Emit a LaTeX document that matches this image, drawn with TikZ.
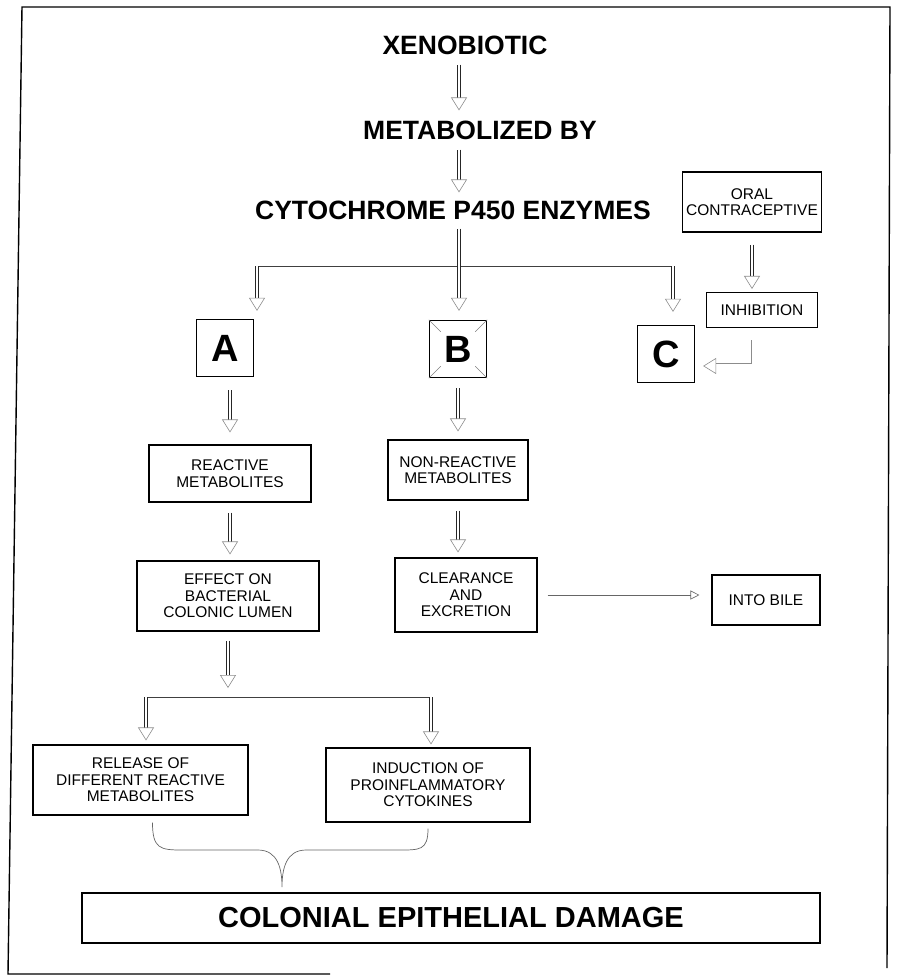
\documentclass[tikz,border=0pt]{standalone}
\usepackage{fontspec}
\setmainfont{Liberation Sans}
\usetikzlibrary{arrows.meta,calc,positioning}

\begin{document}
\begin{tikzpicture}[x=1pt,y=-1pt,
    title/.style={font=\fontsize{26.5}{30}\selectfont\bfseries, inner sep=0pt},
    letterbox/.style={draw, line width=1.3pt, minimum width=57pt, minimum height=57pt, inner sep=0pt, font=\fontsize{38}{40}\selectfont\bfseries},
    textbox/.style={draw, line width=1.1pt, align=center, inner sep=2pt, font=\fontsize{15.5}{16.5}\selectfont},
    harrow/.style={draw=black!85, double, double distance=2.4pt, line width=0.55pt, -{Triangle[open, width=16pt, length=13pt, line width=0.6pt, color=black!45]}},
    barrow/.style={harrow, draw=black!45, double distance=5pt},
    branch/.style={draw=black!75, line width=0.8pt},
    thinarrow/.style={draw=black!60, line width=0.6pt, -{Triangle[open, width=9pt, length=9pt]}},
    brace/.style={draw=black!60, line width=0.7pt},
  ]
  \useasboundingbox (0,0) rectangle (898,978);
  % frame of the scan
  \draw[line width=1.4pt] (330,974) -- (8,974) -- (22,7) -- (890,7) -- (887,968);

  % main chain
  \coordinate (spine) at (459,0);
  \node[title] (xeno) at (465,45) {XENOBIOTIC};
  \node[title] (metab) at (480,130) {METABOLIZED BY};
  \node[title] (cyto) at (453,210) {CYTOCHROME P450 ENZYMES};
  \draw[harrow, shorten <=10pt, shorten >=10pt] (xeno.south -| spine) -- (metab.north -| spine);
  \draw[harrow, shorten <=10pt, shorten >=8pt] (metab.south -| spine) -- (cyto.north -| spine);

  % the three ways
  \node[letterbox] (a) at (225,348) {A};
  \node[letterbox] (b) at (458,349) {B};
  \node[letterbox] (c) at (666,354) {C};
  \draw[black!50] (b.north west) -- ++(12,12);
  \draw[black!50] (b.north east) -- ++(-12,12);
  \draw[black!50] (b.south west) -- ++(12,-12);
  \draw[black!50] (b.south east) -- ++(-12,-12);

  \coordinate (brL) at (257,266);
  \coordinate (brR) at (673,266);
  \draw[branch, rounded corners=3pt] (brL) -- (brR);
  \draw[harrow, shorten <=9pt, shorten >=9pt] (cyto.south -| spine) -- (b.north -| spine);
  \draw[harrow, shorten >=8pt] (brL) -- (brL |- a.north);
  \draw[harrow, shorten >=13pt] (brR) -- (brR |- c.north);

  % oral contraceptive
  \node[textbox, minimum width=139pt, minimum height=60pt] (oral) at (752,202) {ORAL\\CONTRACEPTIVE};
  \node[textbox, minimum width=111pt, minimum height=35pt] (inhib) at (762,310) {INHIBITION};
  \draw[harrow, shorten <=12pt, shorten >=3pt] (oral.south) -- (oral.south |- inhib.north);
  \draw[barrow] ([xshift=-8pt,yshift=-12pt]inhib.south) |- ([xshift=8pt,yshift=-12pt]c.east);

  % way A
  \node[textbox, minimum width=162pt, minimum height=57pt] (reactive) at (230,473.5) {REACTIVE\\METABOLITES};
  \node[textbox, minimum width=182pt, minimum height=70pt] (effect) at (228,596) {EFFECT ON\\BACTERIAL\\COLONIC LUMEN};
  \draw[harrow, shorten <=13pt, shorten >=12pt] (a.south -| reactive.north) -- (reactive.north);
  \draw[harrow, shorten <=10pt, shorten >=6pt] (reactive.south) -- (reactive.south |- effect.north);

  \coordinate (brL2) at (146,697);
  \coordinate (brR2) at (431,697);
  \draw[branch] (brL2) -- (brR2);
  \draw[harrow, shorten <=9pt, shorten >=9pt] (effect.south) -- (effect.south |- brL2);

  \node[textbox, minimum width=215pt, minimum height=70pt] (release) at (140.5,780) {RELEASE OF\\DIFFERENT REACTIVE\\METABOLITES};
  \node[textbox, minimum width=204pt, minimum height=74pt] (induct) at (428,785) {INDUCTION OF\\PROINFLAMMATORY\\CYTOKINES};
  \draw[harrow, shorten >=4pt] (brL2) -- (brL2 |- release.north);
  \draw[harrow, shorten >=3pt] (brR2) -- (brR2 |- induct.north);

  % way B
  \node[textbox, minimum width=140pt, minimum height=60pt] (nonreact) at (458,470) {NON-REACTIVE\\METABOLITES};
  \node[textbox, minimum width=142pt, minimum height=74pt] (clear) at (466,595) {CLEARANCE\\AND\\EXCRETION};
  \node[textbox, minimum width=108pt, minimum height=50pt] (bile) at (766,600) {INTO BILE};
  \draw[harrow, shorten <=10pt, shorten >=8pt] (b.south) -- (nonreact.north);
  \draw[harrow, shorten <=10pt, shorten >=5pt] (nonreact.south) -- (nonreact.south |- clear.north);
  \draw[thinarrow, shorten <=10pt, shorten >=12pt] (clear.east) -- (clear.east -| bile.west);

  % damage
  \node[draw, line width=1.6pt, minimum width=738pt, minimum height=50pt, font=\fontsize{29}{32}\selectfont\bfseries] (colonial) at (451,918) {COLONIAL EPITHELIAL DAMAGE};
  \coordinate (braceL) at ([xshift=12pt,yshift=-7pt]release.south);
  \coordinate (braceR) at ([yshift=-6pt]induct.south);
  \coordinate (braceT) at (282,887);
  \draw[brace] (braceL) .. controls +(0,26) and +(-22,0) .. (182,850) -- (258,850)
    .. controls +(20,0) and +(0,-18) .. (braceT)
    .. controls +(0,-18) and +(-20,0) .. (306,850) -- (398,850)
    .. controls +(22,0) and +(0,22) .. (braceR);
\end{tikzpicture}
\end{document}
